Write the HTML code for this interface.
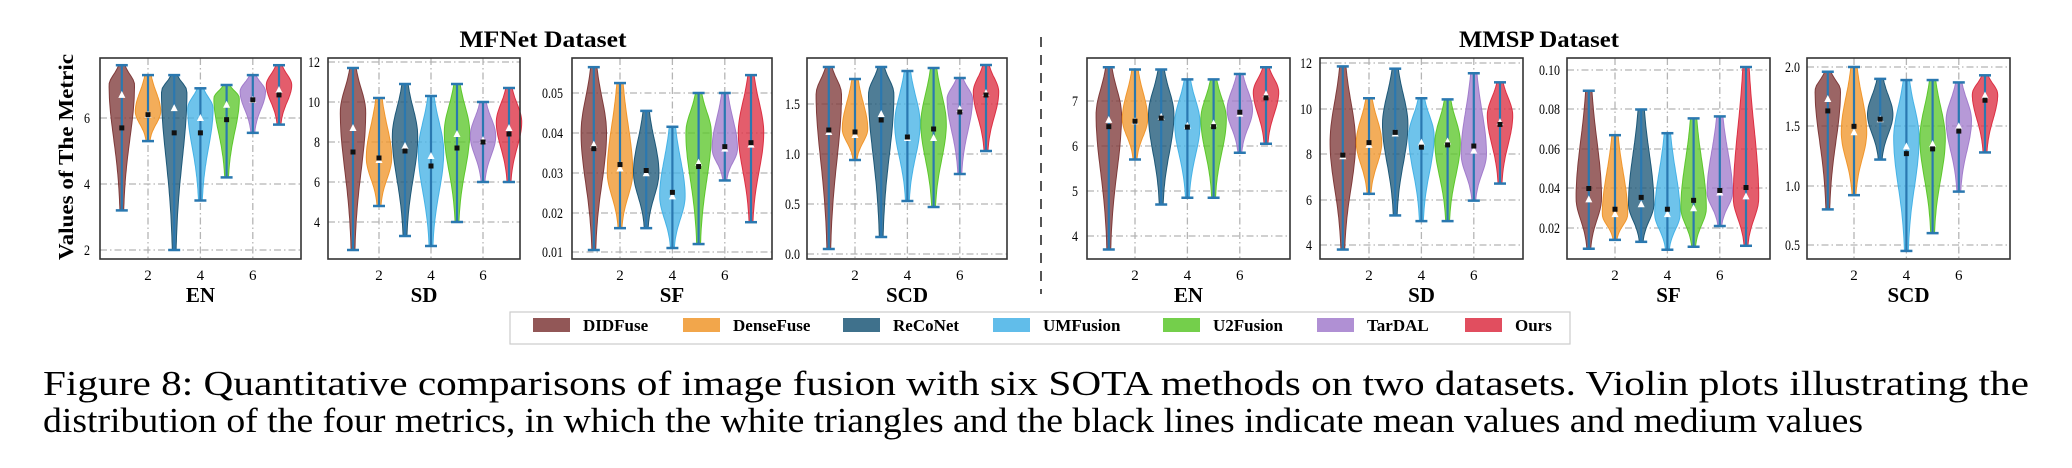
<!DOCTYPE html>
<html><head><meta charset="utf-8"><style>
html,body{margin:0;padding:0;background:#fff;width:2072px;height:468px;overflow:hidden}
svg{display:block}
text{font-family:"Liberation Serif",serif}
</style></head><body>
<svg id="s" width="2072" height="468" viewBox="0 0 2072 468" xmlns="http://www.w3.org/2000/svg">
<text x="543" y="47" font-size="23" font-weight="bold" text-anchor="middle" textLength="167" lengthAdjust="spacingAndGlyphs">MFNet Dataset</text>
<text x="1539" y="47" font-size="23" font-weight="bold" text-anchor="middle" textLength="160" lengthAdjust="spacingAndGlyphs">MMSP Dataset</text>
<text transform="translate(73,157) rotate(-90)" font-size="21" font-weight="bold" text-anchor="middle" textLength="206" lengthAdjust="spacingAndGlyphs">Values of The Metric</text>
<line x1="1041" y1="37" x2="1041" y2="294" stroke="#555" stroke-width="2" stroke-dasharray="10,8"/>
<g id="plots"></g>
<rect x="510" y="312" width="1060" height="32" fill="#fff" stroke="#ccc" stroke-width="1.2"/>
<g id="leg" font-size="17" font-weight="bold"></g>
<text x="43" y="395" font-size="35" textLength="1986" lengthAdjust="spacingAndGlyphs">Figure 8: Quantitative comparisons of image fusion with six SOTA methods on two datasets.  Violin plots illustrating the</text>
<text x="43" y="432" font-size="35" textLength="1820" lengthAdjust="spacingAndGlyphs">distribution of the four metrics, in which the white triangles and the black lines indicate mean values and medium values</text>
</svg>
<script>
const NS="http://www.w3.org/2000/svg";
const cols=["#7f3a3a","#f0962c","#1d5878","#45b2e6","#5cc72c","#a27ccc","#dc2f43"];
const names=["DIDFuse","DenseFuse","ReCoNet","UMFusion","U2Fusion","TarDAL","Ours"];
const g=document.getElementById("plots");
function el(t,a,p){const e=document.createElementNS(NS,t);for(const k in a)e.setAttribute(k,a[k]);(p||g).appendChild(e);return e;}
// panel: box x0,x1, ticks [[v,y]...] labels, xticks positions for 2,4,6, label
const T=58,B=259;
const panels=[
{x0:100,x1:301,lx:90,x2:148,lab:"EN",yt:[[6,118],[4,184],[2,250]],fmt:v=>v,
 d:[[3.2,7.6,5.7,6.7,7.0],[5.3,7.3,6.1,6.1,6.2],[2.0,7.3,5.55,6.3,6.8],[3.5,6.9,5.55,6.0,6.3],[4.2,7.0,5.95,6.4,6.6],[5.55,7.3,6.55,6.55,6.8],[5.8,7.6,6.7,6.85,7.0]]},
{x0:328,x1:520,lx:320,x2:379,lab:"SD",yt:[[12,62],[10,102],[8,142],[6,182],[4,222]],
 d:[[2.6,11.7,7.5,8.7,9.5],[4.8,10.2,7.2,7.1,7.2],[3.3,10.9,7.55,7.8,8.3],[2.8,10.3,6.8,7.3,7.5],[4.0,10.9,7.7,8.4,8.5],[6.0,10.0,8.0,8.1,8.3],[6.0,10.7,8.4,8.7,9.0]]},
{x0:572,x1:772,lx:563,x2:620,lab:"SF",yt:[[0.05,93],[0.04,133],[0.03,173],[0.02,213],[0.01,252]],fmt:v=>v.toFixed(2),
 d:[[.0105,.0565,.036,.037,.04],[.016,.0525,.032,.031,.03],[.016,.0455,.0305,.0298,.03],[.011,.0415,.025,.024,.024],[.012,.05,.0315,.0325,.04],[.028,.05,.0365,.036,.036],[.0175,.0545,.0375,.037,.04]]},
{x0:807,x1:1007,lx:800,x2:855,lab:"SCD",yt:[[1.5,104],[1.0,154],[0.5,204],[0.0,254]],fmt:v=>v.toFixed(1),
 d:[[.05,1.87,1.24,1.22,1.6],[.94,1.75,1.22,1.19,1.25],[.17,1.87,1.34,1.4,1.6],[.53,1.83,1.17,1.16,1.3],[.47,1.86,1.25,1.16,1.3],[.8,1.76,1.42,1.45,1.55],[1.03,1.89,1.59,1.61,1.62]]},
{x0:1087,x1:1290,lx:1078,x2:1135,lab:"EN",yt:[[7,101],[6,146],[5,191],[4,236]],
 d:[[3.7,7.75,6.43,6.58,6.7],[5.7,7.7,6.55,6.55,6.6],[4.7,7.7,6.62,6.65,6.7],[4.85,7.48,6.42,6.45,6.5],[4.85,7.48,6.43,6.5,6.6],[5.85,7.6,6.75,6.72,6.8],[6.05,7.75,7.07,7.15,7.2]]},
{x0:1320,x1:1523,lx:1312,x2:1369,lab:"SD",yt:[[12,63],[10,109],[8,154],[6,200],[4,245]],
 d:[[3.8,11.85,7.95,7.9,8.5],[6.25,10.45,8.5,8.4,8.5],[5.3,11.75,8.95,8.9,9.3],[5.05,10.45,8.3,8.5,8.8],[5.05,10.4,8.4,8.55,8.5],[5.95,11.55,8.35,8.15,8.0],[6.7,11.15,9.3,9.4,9.7]]},
{x0:1567,x1:1770,lx:1560,x2:1615,lab:"SF",yt:[[0.10,70],[0.08,109],[0.06,149],[0.04,188],[0.02,228]],fmt:v=>v.toFixed(2),
 d:[[.0095,.0895,.04,.0345,.035],[.014,.067,.0295,.027,.027],[.013,.08,.0355,.032,.032],[.009,.068,.0295,.027,.027],[.0105,.0755,.034,.030,.03],[.021,.0765,.039,.038,.038],[.011,.1015,.0405,.036,.035]]},
{x0:1807,x1:2010,lx:1800,x2:1854,lab:"SCD",yt:[[2.0,67],[1.5,126],[1.0,186],[0.5,245]],fmt:v=>v.toFixed(1),
 d:[[.8,1.96,1.63,1.73,1.8],[.92,2.0,1.5,1.45,1.45],[1.22,1.9,1.56,1.56,1.6],[.45,1.89,1.27,1.33,1.4],[.6,1.89,1.31,1.35,1.4],[.95,1.87,1.46,1.5,1.55],[1.28,1.93,1.72,1.76,1.77]]}
];
for(const p of panels){
 const [a,b]=[p.yt[0],p.yt[p.yt.length-1]];
 const Y=v=>a[1]+(v-a[0])*(b[1]-a[1])/(b[0]-a[0]);
 const sp=(p.x1-p.x0)>195?26.2:26;
 const X=i=>p.x2+(i-2)*sp;
 const fmt=p.fmt||(v=>String(v));
 // grid
 for(const [v,y] of p.yt){
  el("line",{x1:p.x0,x2:p.x1,y1:y,y2:y,stroke:"#b5b5b5","stroke-width":1.3,"stroke-dasharray":"7,3,1.5,3"});
  el("text",{x:p.lx,y:y+5,"font-size":15,"text-anchor":"end",transform:`translate(${p.lx},0) scale(0.8,1) translate(${-p.lx},0)`}).textContent=fmt(v);
 }
 for(const i of [2,4,6]){
  el("line",{x1:X(i),x2:X(i),y1:T,y2:B,stroke:"#b5b5b5","stroke-width":1.3,"stroke-dasharray":"7,3,1.5,3"});
  el("text",{x:X(i),y:280,"font-size":15,"text-anchor":"middle"}).textContent=i;
 }
 p.d.forEach((d,k)=>{
  const [mn,mx,med,mean,pk]=d; const cx=X(k+1);
  const W=11.5, su=Math.max((mx-pk)*0.75,1e-9), sd=Math.max((pk-mn)*0.6,1e-9);
  const N=40,L=[],R=[];
  for(let j=0;j<=N;j++){const v=mn+(mx-mn)*j/N;const s=v>pk?su:sd;let w=W*Math.exp(-Math.pow((v-pk)/s,2))+1.2;const y=Y(v);L.push([cx-w,y]);R.push([cx+w,y]);}
  const pts=L.concat(R.reverse()).map(q=>q[0].toFixed(1)+","+q[1].toFixed(1)).join(" ");
  el("polygon",{points:pts,fill:cols[k],"fill-opacity":0.78,stroke:cols[k],"stroke-width":1});
  el("line",{x1:cx,x2:cx,y1:Y(mn),y2:Y(mx),stroke:"#2a78b0","stroke-width":2.2});
  el("line",{x1:cx-6,x2:cx+6,y1:Y(mn),y2:Y(mn),stroke:"#2a78b0","stroke-width":2.5});
  el("line",{x1:cx-6,x2:cx+6,y1:Y(mx),y2:Y(mx),stroke:"#2a78b0","stroke-width":2.5});
  const ym=Y(mean);
  el("polygon",{points:`${cx-3.5},${ym+3} ${cx+3.5},${ym+3} ${cx},${ym-4}`,fill:"#fff"});
  el("rect",{x:cx-2.5,y:Y(med)-2.5,width:5,height:5,fill:"#111"});
 });
 el("rect",{x:p.x0,y:T,width:p.x1-p.x0,height:B-T,fill:"none",stroke:"#333","stroke-width":1.6});
 const cxm=(p.x0+p.x1)/2;
 el("text",{x:cxm,y:302,"font-size":21,"font-weight":"bold","text-anchor":"middle"}).textContent=p.lab;
}
const lg=document.getElementById("leg");
const sw=[533,683,843,993,1163,1317,1465];
sw.forEach((x,i)=>{
 el("rect",{x:x,y:318,width:37,height:14,fill:cols[i],"fill-opacity":0.85},lg);
 el("text",{x:x+50,y:331,"font-size":17},lg).textContent=names[i];
});
</script>
</body></html>
